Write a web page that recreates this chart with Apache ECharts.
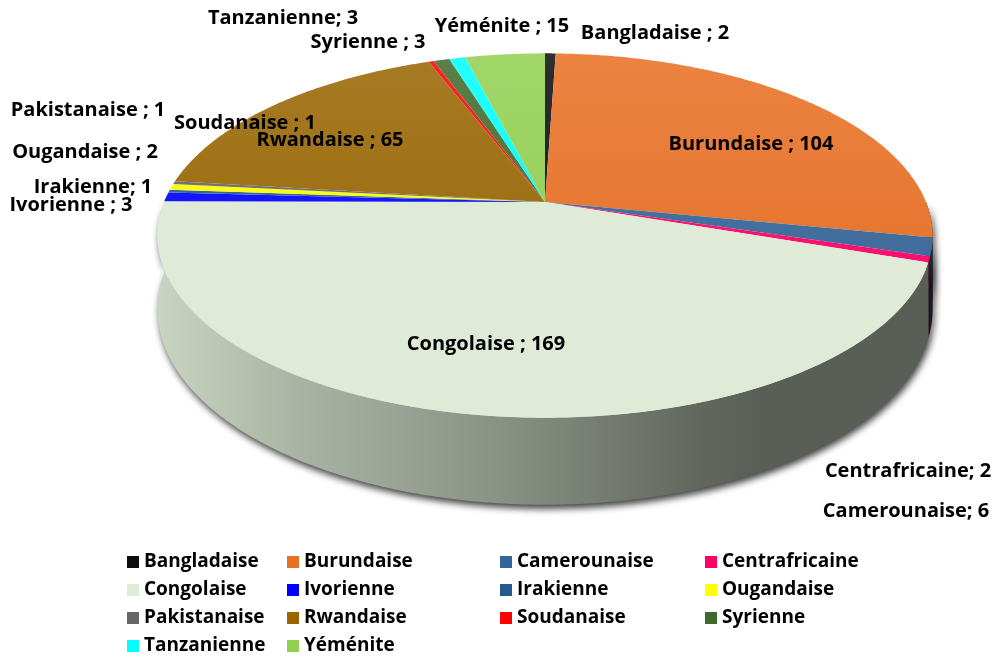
<!DOCTYPE html>
<html>
<head>
<meta charset="utf-8">
<script src="https://cdn.jsdelivr.net/npm/echarts@6/dist/echarts.min.js"></script>
<style>
  html, body { margin: 0; background: #fff; }
  #chart { width: 995px; height: 662px; }
</style>
</head>
<body>
<div id="chart"></div>
<script>
// données
const names = ['Bangladaise', 'Burundaise', 'Camerounaise', 'Centrafricaine', 'Congolaise', 'Ivorienne', 'Irakienne',
  'Ougandaise', 'Pakistanaise', 'Rwandaise', 'Soudanaise', 'Syrienne', 'Tanzanienne', 'Yéménite']
const values = [2, 104, 6, 2, 169, 3, 1, 2, 1, 65, 1, 3, 3, 15]
const colors = ['#0d0d0d', '#e96f22', '#346598', '#ff0066', '#dfebd6', '#0000ff', '#245b8e',
  '#ffff00', '#666666', '#996600', '#ff0000', '#3f6a2a', '#00ffff', '#92d050']
const labelSep = [' ; ', ' ; ', '; ', '; ', ' ; ', ' ; ', '; ', ' ; ', ' ; ', ' ; ', ' ; ', ' ; ', '; ', ' ; ']

// placement des étiquettes (centre du texte)
const labelX = [655, 751, 906, 908, 486, 71, 93, 85, 88, 330, 245, 368, 283, 502]
const labelY = [33, 144, 511, 471, 344, 205, 187, 152, 110, 140, 123, 42, 18, 26]
const legendLeft = [127, 287, 500, 705]

// géométrie du camembert 3D (perspective)
const CX = 545, CY = 202, A = 381, B = 176, K = 0.184, H = 71
const FONT = 'Open Sans'

const total = values.reduce((a, b) => a + b, 0)
const cum = [0]
values.forEach(v => cum.push(cum[cum.length - 1] + v))
const ang = i => cum[i] / total * Math.PI * 2

// t > 0 : vers le blanc, t < 0 : vers le noir
function shade(color, t) {
  const c = echarts.color.parse(color)
  const target = t > 0 ? 255 : 0, k = Math.abs(t)
  return 'rgb(' + [0, 1, 2].map(j => Math.round(c[j] + (target - c[j]) * k)).join(',') + ')'
}

function proj(t, drop) {
  const c = Math.cos(t), s = Math.sin(t), d = 1 + K * c
  return [CX + A * s / d, CY - B * c / d + drop / d]
}
function arc(a0, a1, drop) {
  const n = Math.max(2, Math.ceil((a1 - a0) / (Math.PI / 360)))
  const pts = []
  for (let k = 0; k <= n; k++) pts.push(proj(a0 + (a1 - a0) * k / n, drop))
  return pts
}

function topFace(i) {
  const pts = [[CX, CY]].concat(arc(ang(i), ang(i + 1), 0))
  const up = i === 4 ? 0.02 : 0.14, down = i === 4 ? 0 : -0.04
  return {
    type: 'polygon',
    shape: { points: pts },
    style: {
      fill: new echarts.graphic.LinearGradient(0, 53, 0, 420, [
        { offset: 0, color: shade(colors[i], up) },
        { offset: 1, color: shade(colors[i], down) }
      ], true),
      stroke: null
    }
  }
}

function sideFace(i) {
  const s0 = Math.max(ang(i), Math.PI / 2), s1 = Math.min(ang(i + 1), Math.PI * 1.5)
  if (s1 <= s0) return null
  const pts = arc(s0, s1, 0).concat(arc(s0, s1, H).reverse())
  const c = colors[i]
  return {
    type: 'polygon',
    shape: { points: pts },
    style: {
      fill: new echarts.graphic.LinearGradient(157, 0, 932, 0, [
        { offset: 0, color: shade(c, -0.1) },
        { offset: 0.185, color: shade(c, -0.24) },
        { offset: 0.44, color: shade(c, -0.38) },
        { offset: 0.7, color: shade(c, -0.56) },
        { offset: 0.78, color: shade(c, -0.6) },
        { offset: 1, color: shade(c, -0.6) }
      ], true),
      shadowBlur: 7, shadowColor: 'rgba(0,0,0,0.75)', shadowOffsetX: 2, shadowOffsetY: 4
    }
  }
}

const chart = echarts.init(document.getElementById('chart'))

const series = [{
  type: 'custom', name: 'côtés', coordinateSystem: 'none', z: 1, silent: true,
  data: values.map(v => [v]),
  renderItem: (p) => sideFace(p.dataIndex)
}]
names.forEach((n, i) => {
  series.push({
    type: 'custom', name: n, coordinateSystem: 'none', z: 2, silent: true,
    itemStyle: { color: colors[i] },
    data: [[values[i]]],
    renderItem: () => topFace(i)
  })
})
series.push({
  type: 'custom', name: 'étiquettes', coordinateSystem: 'none', z: 3, silent: true,
  data: values.map(v => [v]),
  renderItem: (p, api) => {
    const i = p.dataIndex
    return {
      type: 'text', x: labelX[i], y: labelY[i],
      style: {
        text: names[i] + labelSep[i] + api.value(0),
        fill: '#000', fontSize: 20, fontWeight: 'bold', fontFamily: FONT,
        align: 'center', verticalAlign: 'middle'
      }
    }
  }
})

chart.setOption({
  animation: false,
  backgroundColor: '#fff',
  legend: legendLeft.map((left, c) => ({
    orient: 'vertical', left: left, top: 552, padding: 0,
    icon: 'rect', itemWidth: 12, itemHeight: 12, itemGap: 8, selectedMode: false,
    data: names.filter((_, i) => i % 4 === c),
    textStyle: { fontSize: 19, fontWeight: 'bold', fontFamily: FONT, color: '#000', lineHeight: 20 }
  })),
  series: series
})
</script>
</body>
</html>
